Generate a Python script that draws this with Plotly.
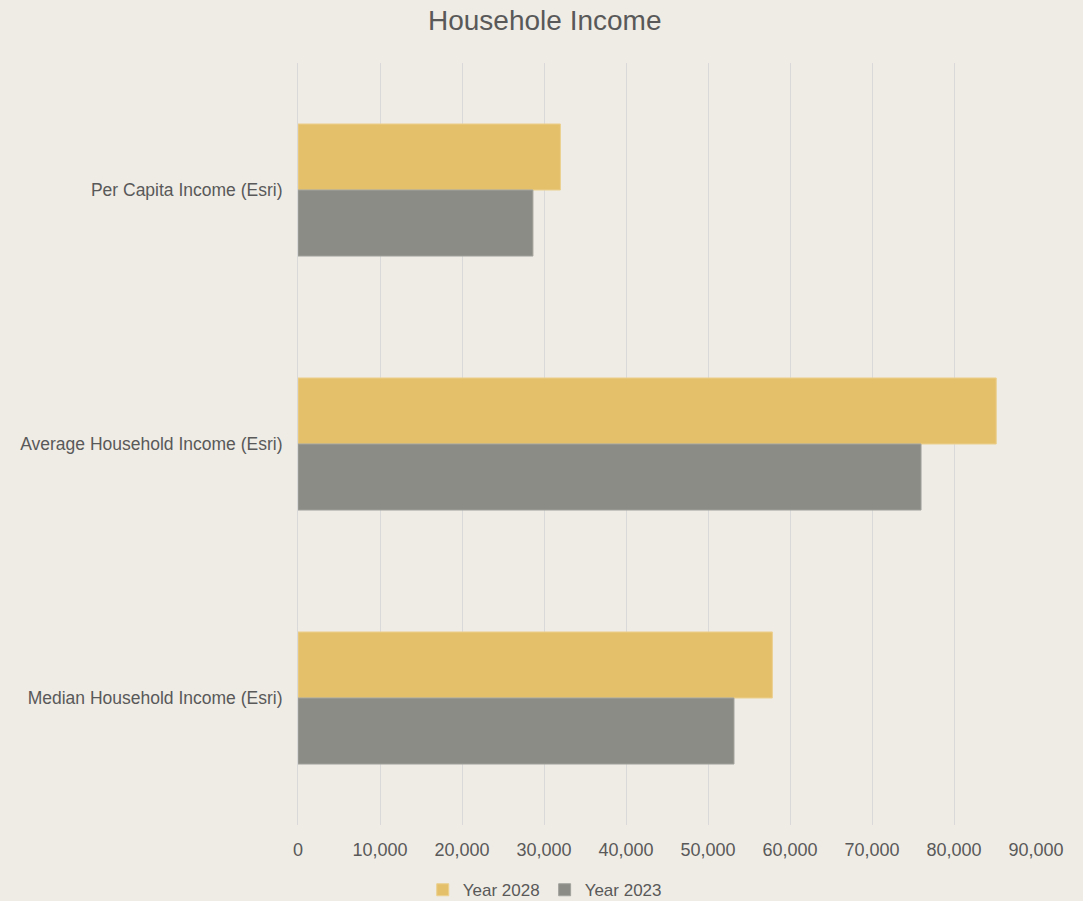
import plotly.graph_objects as go

categories = ["Per Capita Income (Esri)", "Average Household Income (Esri)", "Median Household Income (Esri)"]
year_2028 = [32000, 85150, 57850]
year_2023 = [28650, 75980, 53170]
tick_vals = [0, 10000, 20000, 30000, 40000, 50000, 60000, 70000, 80000, 90000]
tick_text = ["0", "10,000", "20,000", "30,000", "40,000", "50,000", "60,000", "70,000", "80,000", "90,000"]

bg = "#EFECE5"
txt = "#595959"

fig = go.Figure()
fig.add_trace(go.Bar(y=categories, x=year_2028, name="Year 2028", orientation="h",
                     marker=dict(color="#E5C06B", line=dict(color="#EBD08F", width=1))))
fig.add_trace(go.Bar(y=categories, x=year_2023, name="Year 2023", orientation="h",
                     marker=dict(color="#8C8C86", line=dict(color="#A3A39D", width=1))))

fig.update_layout(
    width=1083, height=901,
    paper_bgcolor=bg, plot_bgcolor=bg,
    barmode="group", bargap=0.48, bargroupgap=0,
    margin=dict(l=298, r=47, t=63, b=76, autoexpand=False),
    title=dict(text="Househole Income", x=0.503, xref="container", y=0.978, yanchor="middle",
               font=dict(family="Liberation Sans, Arial", size=28, color=txt)),
    font=dict(family="Liberation Sans, Arial", color=txt),
    showlegend=True,
    legend=dict(orientation="h", x=0.503, xref="container", xanchor="center", y=0.012, yref="container",
                yanchor="middle", font=dict(size=17, color=txt), itemwidth=30, traceorder="normal",
                bgcolor="rgba(0,0,0,0)"),
    xaxis=dict(range=[0, 90000], tickvals=tick_vals, ticktext=tick_text, showgrid=True,
               gridcolor="#D9D9D9", gridwidth=1, zeroline=False, showline=False, automargin=False,
               tickfont=dict(size=18, color=txt), ticks="outside", ticklen=8, tickcolor="rgba(0,0,0,0)"),
    yaxis=dict(autorange="reversed", showgrid=False, zeroline=False, showline=True, linecolor="#D9D9D9",
               linewidth=1, automargin=False, tickfont=dict(size=17.5, color=txt), ticks="outside", ticklen=11,
               tickcolor="rgba(0,0,0,0)"),
)

fig.write_html("out.html", config={"displayModeBar": False},
               post_script="document.body.style.margin='0';document.body.style.background='#EFECE5';")
